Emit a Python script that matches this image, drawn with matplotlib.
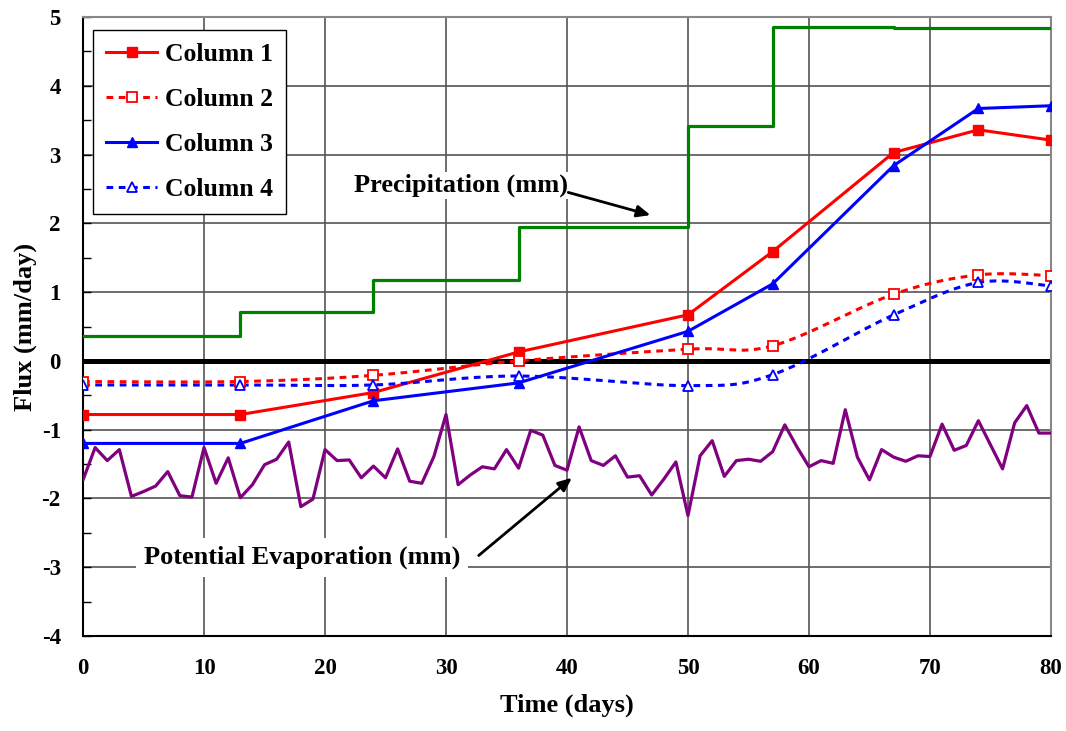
import numpy as np
import matplotlib
matplotlib.use("Agg")
import matplotlib.pyplot as plt
from matplotlib.ticker import MultipleLocator
from matplotlib.lines import Line2D

plt.rcParams['font.family'] = ['Liberation Serif', 'DejaVu Serif']
plt.rcParams['font.weight'] = 'bold'
plt.rcParams['axes.unicode_minus'] = False

# Measured column fluxes (mm/day)
days_col = [0, 13, 24, 36, 50, 57, 67, 74, 80]
column1 = [-0.78, -0.78, -0.46, 0.13, 0.67, 1.59, 3.03, 3.36, 3.21]
column2 = [-0.30, -0.30, -0.21, 0.00, 0.17, 0.22, 0.97, 1.25, 1.24]
column3 = [-1.20, -1.20, -0.58, -0.32, 0.43, 1.12, 2.84, 3.67, 3.71]
column4 = [-0.35, -0.35, -0.35, -0.22, -0.36, -0.20, 0.67, 1.14, 1.09]

# Precipitation (step changes)
days_precip = [0, 13, 24, 36, 50, 57, 67, 80]
precip = [0.36, 0.71, 1.17, 1.95, 3.41, 4.86, 4.845, 4.845]

# Daily potential evaporation, day 0..80
days_evap = list(range(81))
evap = [-1.73, -1.26, -1.45, -1.29, -1.97, -1.90, -1.82, -1.61, -1.96, -1.98,
        -1.26, -1.78, -1.41, -1.99, -1.80, -1.51, -1.43, -1.18, -2.12, -2.01,
        -1.29, -1.45, -1.44, -1.70, -1.53, -1.70, -1.28, -1.75, -1.78, -1.39,
        -0.78, -1.80, -1.66, -1.54, -1.57, -1.29, -1.56, -1.01, -1.08, -1.52,
        -1.59, -0.96, -1.45, -1.52, -1.38, -1.69, -1.67, -1.95, -1.72, -1.47,
        -2.25, -1.38, -1.16, -1.68, -1.45, -1.43, -1.46, -1.32, -0.93, -1.25,
        -1.54, -1.45, -1.49, -0.71, -1.40, -1.73, -1.29, -1.40, -1.46, -1.38,
        -1.39, -0.92, -1.30, -1.23, -0.87, -1.22, -1.57, -0.90, -0.65, -1.05,
        -1.05]

x_ticks = [0, 10, 20, 30, 40, 50, 60, 70, 80]
y_ticks = [-4, -3, -2, -1, 0, 1, 2, 3, 4, 5]


def smooth_curve(x, y, n=30):
    """Bezier smoothing through the points (Catmull-Rom style)."""
    x = np.asarray(x, float)
    y = np.asarray(y, float)
    px, py = [], []
    m = len(x)
    for i in range(m - 1):
        x0, y0 = (x[i - 1], y[i - 1]) if i > 0 else (x[i], y[i])
        x3, y3 = (x[i + 2], y[i + 2]) if i + 2 < m else (x[i + 1], y[i + 1])
        x1, y1 = x[i], y[i]
        x2, y2 = x[i + 1], y[i + 1]
        c1x, c1y = x1 + (x2 - x0) / 6, y1 + (y2 - y0) / 6
        c2x, c2y = x2 - (x3 - x1) / 6, y2 - (y3 - y1) / 6
        t = np.linspace(0, 1, n)
        bx = ((1 - t) ** 3) * x1 + 3 * ((1 - t) ** 2) * t * c1x + 3 * (1 - t) * t ** 2 * c2x + t ** 3 * x2
        by = ((1 - t) ** 3) * y1 + 3 * ((1 - t) ** 2) * t * c1y + 3 * (1 - t) * t ** 2 * c2y + t ** 3 * y2
        px.extend(bx)
        py.extend(by)
    return np.array(px), np.array(py)


fig = plt.figure(figsize=(10.66, 7.31), dpi=100)
ax = fig.add_axes([0.0779, 0.130, 0.908, 0.8467])

ax.set_xlim(0, 80)
ax.set_ylim(-4, 5)
ax.set_xticks(x_ticks)
ax.set_yticks(y_ticks)
ax.yaxis.set_minor_locator(MultipleLocator(0.5))
ax.tick_params(axis='y', which='both', direction='in', length=6, width=1, colors='black',
               labelsize=16.5, pad=16)
ax.tick_params(axis='x', which='both', length=0, labelsize=16.5, pad=16)
for lab in ax.get_xticklabels() + ax.get_yticklabels():
    lab.set_fontweight('bold')

ax.grid(True, which='major', color='#555555', linewidth=1.2)
ax.set_axisbelow(True)

for side in ('top', 'right'):
    ax.spines[side].set_color('#888888')
    ax.spines[side].set_linewidth(1.5)
for side in ('left', 'bottom'):
    ax.spines[side].set_color('black')
    ax.spines[side].set_linewidth(1.5)

ax.axhline(0, color='black', linewidth=3.6, zorder=2)

ax.plot(days_evap, evap, color='#800080', linewidth=2.3, zorder=3)
ax.plot(days_precip, precip, color='#008000', linewidth=2.3, drawstyle='steps-post', zorder=3)

dash = (0, (2.2, 1.8))
ax.plot(days_col, column1, color='red', linewidth=2.2, marker='s', markersize=6.5,
        label='Column 1', zorder=4)
sx, sy = smooth_curve(days_col, column2)
ax.plot(sx, sy, color='red', linewidth=2.2, linestyle=dash, zorder=4)
ax.plot(days_col, column2, linestyle='none', marker='s', markersize=7,
        markerfacecolor='white', markeredgecolor='red', markeredgewidth=1.3, zorder=5)
ax.plot(days_col, column3, color='blue', linewidth=2.2, marker='^', markersize=7,
        label='Column 3', zorder=4)
sx, sy = smooth_curve(days_col, column4)
ax.plot(sx, sy, color='blue', linewidth=2.2, linestyle=dash, zorder=4)
ax.plot(days_col, column4, linestyle='none', marker='^', markersize=7.5,
        markerfacecolor='white', markeredgecolor='blue', markeredgewidth=1.3, zorder=5)

# Legend entries
handles = [
    Line2D([], [], color='red', linewidth=2.2, marker='s', markersize=6.5),
    Line2D([], [], color='red', linewidth=2.2, linestyle=dash, marker='s', markersize=7,
           markerfacecolor='white', markeredgecolor='red', markeredgewidth=1.3),
    Line2D([], [], color='blue', linewidth=2.2, marker='^', markersize=7),
    Line2D([], [], color='blue', linewidth=2.2, linestyle=dash, marker='^', markersize=7.5,
           markerfacecolor='white', markeredgecolor='blue', markeredgewidth=1.3),
]
labels = ['Column 1', 'Column 2', 'Column 3', 'Column 4']
leg = ax.legend(handles, labels, loc='upper left', bbox_to_anchor=(0.0103, 0.979),
                borderaxespad=0, fancybox=False, framealpha=1, edgecolor='black',
                prop={'family': 'Liberation Serif', 'weight': 'bold', 'size': 18.5},
                handlelength=2.0, handletextpad=0.3, labelspacing=0.86, borderpad=0.5)
leg.get_frame().set_linewidth(1.0)
leg.set_zorder(10)

# Annotation labels with white backing
ax.text(40.1, 2.55, 'Precipitation (mm)', fontsize=19, fontweight='bold',
        ha='right', va='center', zorder=6,
        bbox=dict(boxstyle='square,pad=0.05', facecolor='white', edgecolor='none'))
ax.text(31.2, -2.86, 'Potential Evaporation (mm)', fontsize=19, fontweight='bold',
        ha='right', va='center', zorder=6,
        bbox=dict(boxstyle='square,pad=0.3', facecolor='white', edgecolor='none'))

# Pointer arrows
arrow_style = dict(arrowstyle='-|>,head_length=0.8,head_width=0.35', color='black',
                   linewidth=2, shrinkA=0, shrinkB=0)
ax.annotate('', xy=(46.9, 2.12), xytext=(40.1, 2.45), arrowprops=arrow_style, zorder=6)
ax.annotate('', xy=(40.4, -1.70), xytext=(32.7, -2.83), arrowprops=arrow_style, zorder=6)

ax.set_xlabel('Time (days)', fontsize=19, fontweight='bold', labelpad=10)
ax.set_ylabel('Flux (mm/day)', fontsize=19, fontweight='bold')
ax.yaxis.set_label_coords(-0.048, 0.50)

fig.savefig('out.png', dpi=100)
